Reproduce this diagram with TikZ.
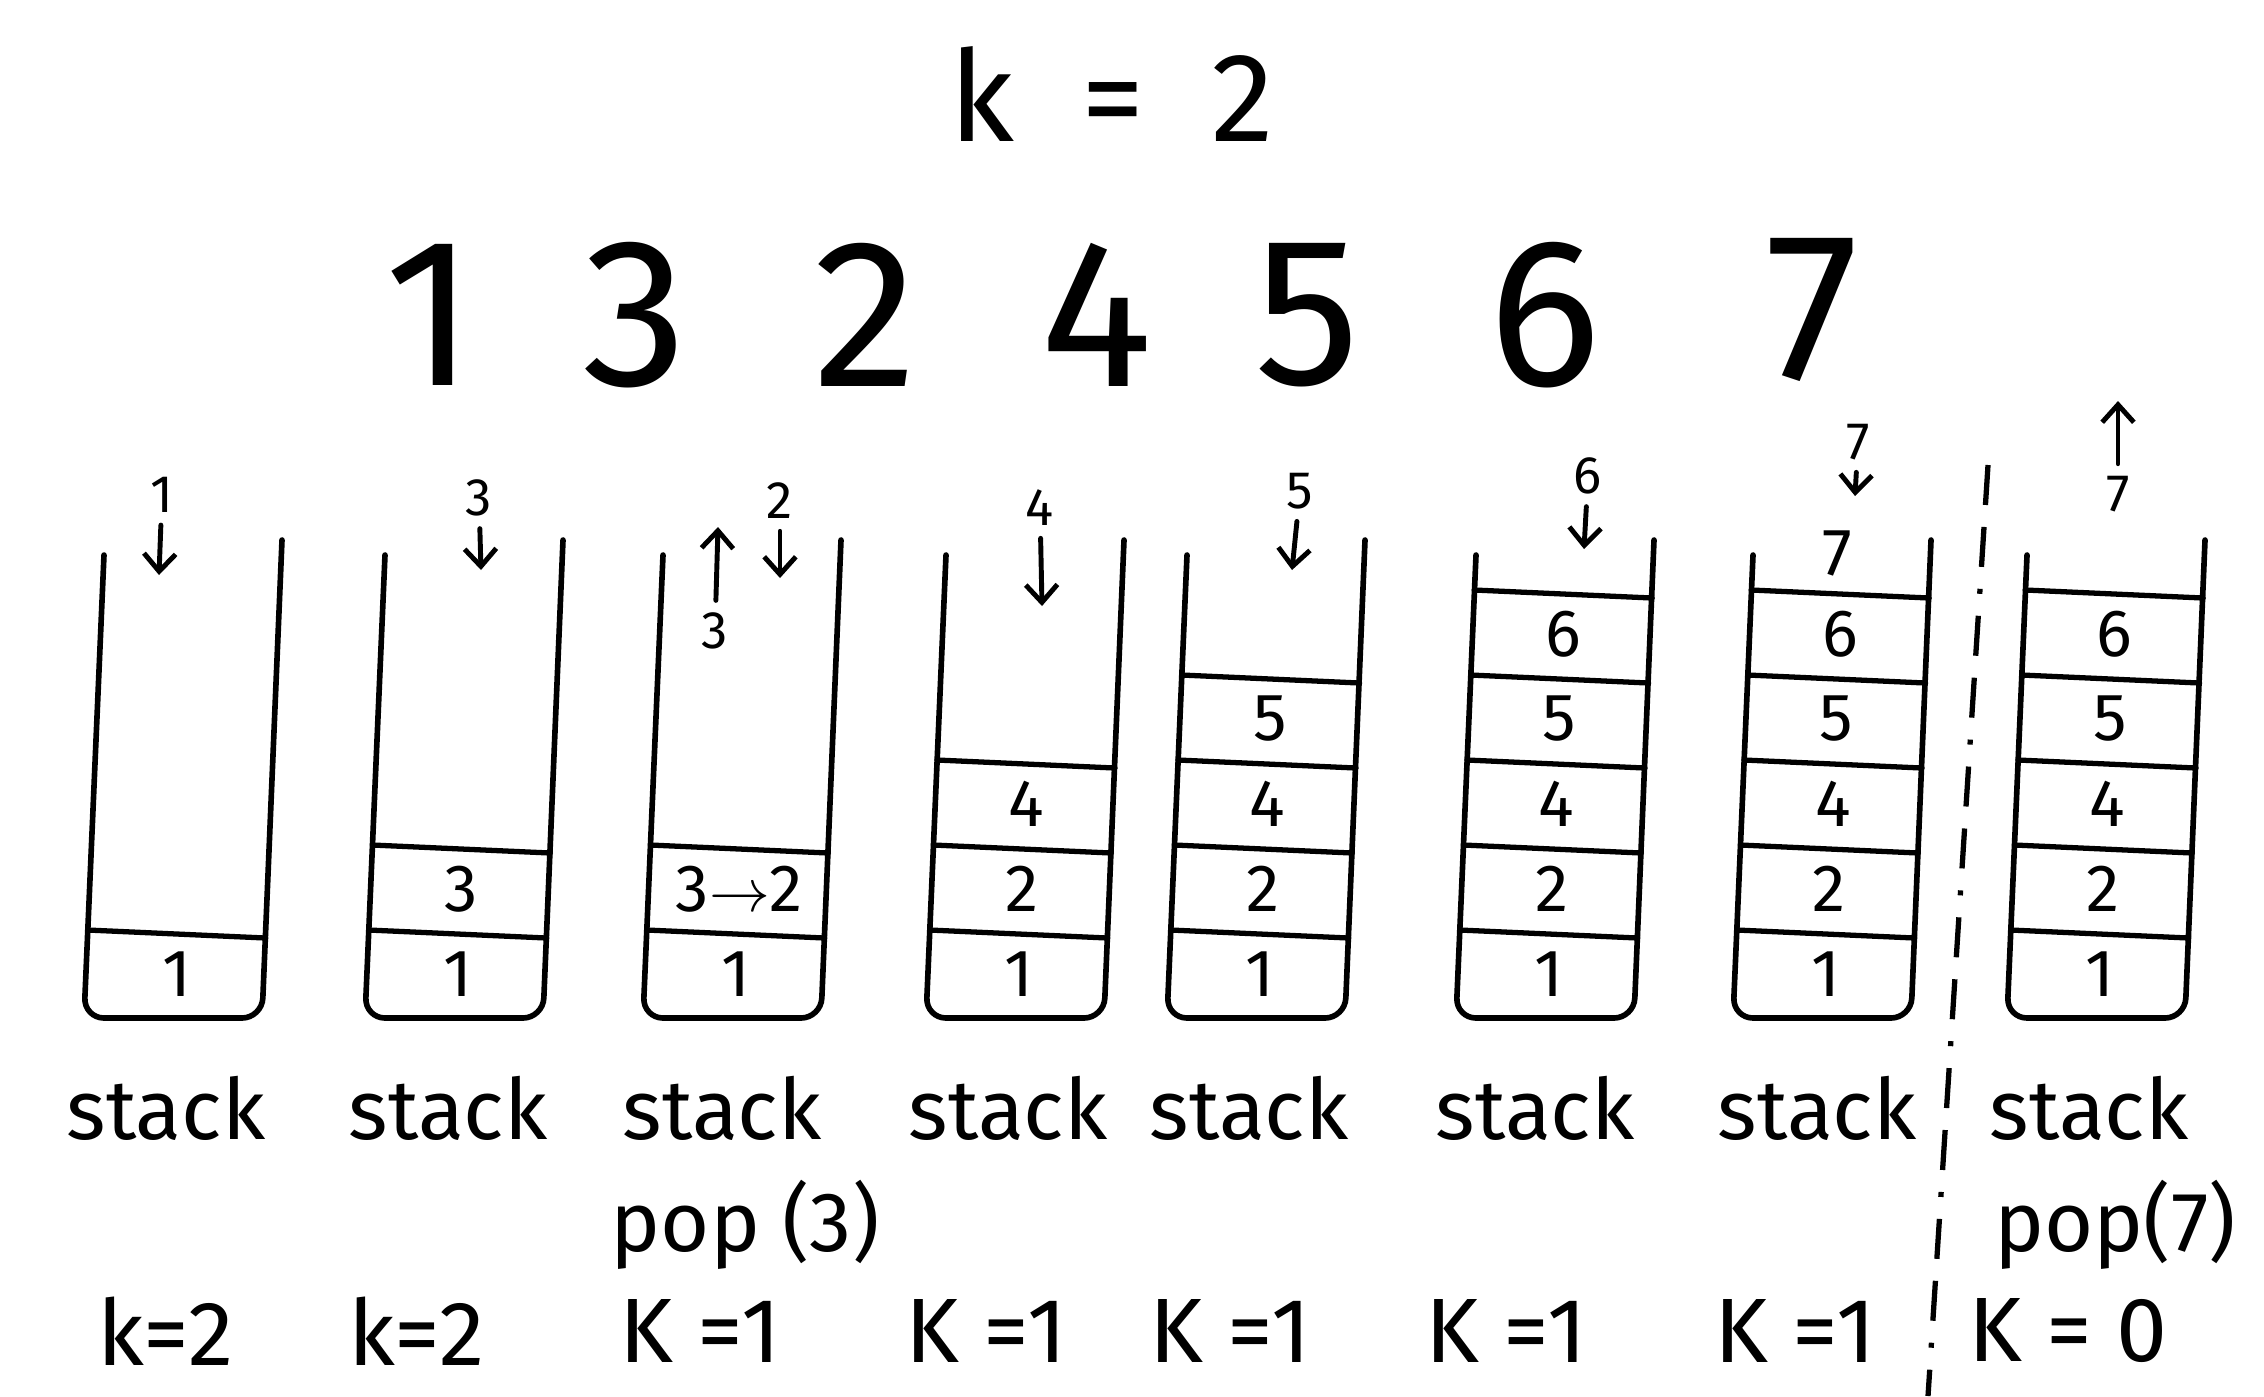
\documentclass[tikz,border=0pt]{standalone}
\usepackage{fontspec}
\setmainfont{Fira Sans}
\usetikzlibrary{arrows.meta}
\tikzset{
     arrow/.style={-{Straight Barb[length=5pt,width=9pt]}, line width=1.4pt, line cap=round},
     wall/.style={line width=1.6pt, line cap=round, rounded corners=0.2cm},
     cellline/.style={line width=1.5pt, line cap=round},
     divider/.style={line width=1.5pt, dash pattern=on 0.4cm off 0.22cm on 0.4cm off 0.22cm on 0.05cm off 0.22cm},
     cellnum/.style={font=\fontsize{19}{22}\selectfont},
     topnum/.style={font=\fontsize{15}{18}\selectfont},
     seqnum/.style={font=\fontsize{60}{70}\selectfont, inner sep=0pt},
     caption/.style={font=\fontsize{24}{28}\selectfont},
     klabel/.style={font=\fontsize{26}{30}\selectfont}
     }

% one stack: #1 name, #2 bottom-left x, #3 cells from the bottom
\newcommand{\stackbox}[3]{%
  \draw[wall] (#2+20,555) -- (#2,1018) -- (#2+178,1018) -- (#2+198,540);
  \foreach \v [count=\i] in {#3} {
    \pgfmathsetmacro{\yl}{930-85*(\i-1)}
    \pgfmathsetmacro{\dx}{20*(1018-\yl)/470}
    \draw[cellline] (#2+\dx,\yl) -- (#2+178+\dx,\yl+8);
    \node[cellnum] (#1c\i) at (#2+89+\dx,\yl+44) {\v};
  }
}

\begin{document}
\begin{tikzpicture}[x=0.01cm, y=-0.01cm]
  \useasboundingbox (0,0) rectangle (2264,1396);
  % Place nodes
  \node[font=\fontsize{36}{42}\selectfont] (kk) at (1112,94) {k\ \ =\ \ 2};
  \node[seqnum] (n1) at (430,315) {1};
  \node[seqnum] (n3) at (635,315) {3};
  \node[seqnum] (n2) at (866,315) {2};
  \node[seqnum] (n4) at (1097,315) {4};
  \node[seqnum] (n5) at (1307,315) {5};
  \node[seqnum] (n6) at (1545,315) {6};
  \node[seqnum] (n7) at (1812,310) {7};

  % Stacks
  \stackbox{A}{84}{1}
  \stackbox{B}{365}{1,3}
  \stackbox{C}{643}{1,3$\to$2}
  \stackbox{D}{926}{1,2,4}
  \stackbox{E}{1167}{1,2,4,5}
  \stackbox{F}{1456}{1,2,4,5,6}
  \stackbox{G}{1733}{1,2,4,5,6}
  \stackbox{H}{2007}{1,2,4,5,6}
  \node[cellnum] (Gc6) at (1837,553) {7};

  % Pushed and popped numbers
  \node[topnum] (inA) at (162,495) {1};
  \coordinate (inAe) at (159,575);
  \node[topnum] (inB) at (479,498) {3};
  \coordinate (inBe) at (481,570);
  \node[topnum] (inC) at (780,501) {2};
  \coordinate (inCe) at (780,578);
  \node[topnum] (outC) at (715,631) {3};
  \coordinate (outCe) at (718,527);
  \node[topnum] (inD) at (1040,508) {4};
  \coordinate (inDe) at (1042,606);
  \node[topnum] (inE) at (1300,491) {5};
  \coordinate (inEe) at (1292,570);
  \node[topnum] (inF) at (1588,476) {6};
  \coordinate (inFe) at (1584,549);
  \node[topnum] (inG) at (1858,442) {7};
  \coordinate (inGe) at (1855,496);
  \node[topnum] (outH) at (2118,494) {7};
  \coordinate (outHe) at (2118,401);

  % Captions
  \node[caption] (capA) at (166,1108) {stack};
  \node[caption] (capB) at (448,1108) {stack};
  \node[caption] (capC) at (722,1108) {stack};
  \node[caption] (capD) at (1008,1108) {stack};
  \node[caption] (capE) at (1249,1108) {stack};
  \node[caption] (capF) at (1535,1108) {stack};
  \node[caption] (capG) at (1817,1108) {stack};
  \node[caption] (capH) at (2089,1108) {stack};
  \node[caption] (popC) at (745,1225) {pop (3)};
  \node[caption] (popH) at (2115,1225) {pop(7)};

  \node[klabel] (kA) at (166,1331) {k=2};
  \node[klabel] (kB) at (417,1331) {k=2};
  \node[klabel] (kC) at (700,1331) {K =1};
  \node[klabel] (kD) at (986,1331) {K =1};
  \node[klabel] (kE) at (1230,1331) {K =1};
  \node[klabel] (kF) at (1506,1331) {K =1};
  \node[klabel] (kG) at (1795,1331) {K =1};
  \node[klabel] (kH) at (2068,1331) {K = 0};

  % Draw edges
  \draw[arrow] (inA) -- (inAe);
  \draw[arrow] (inB) -- (inBe);
  \draw[arrow] (inC) -- (inCe);
  \draw[arrow] (outC) -- (outCe);
  \draw[arrow] (inD) -- (inDe);
  \draw[arrow] (inE) -- (inEe);
  \draw[arrow] (inF) -- (inFe);
  \draw[arrow] (inG) -- (inGe);
  \draw[arrow] (outH) -- (outHe);

  % Divider
  \coordinate (cutTop) at (1988,465);
  \coordinate (cutBot) at (1928,1396);
  \draw[divider] (cutTop) -- (cutBot);
\end{tikzpicture}
\end{document}
